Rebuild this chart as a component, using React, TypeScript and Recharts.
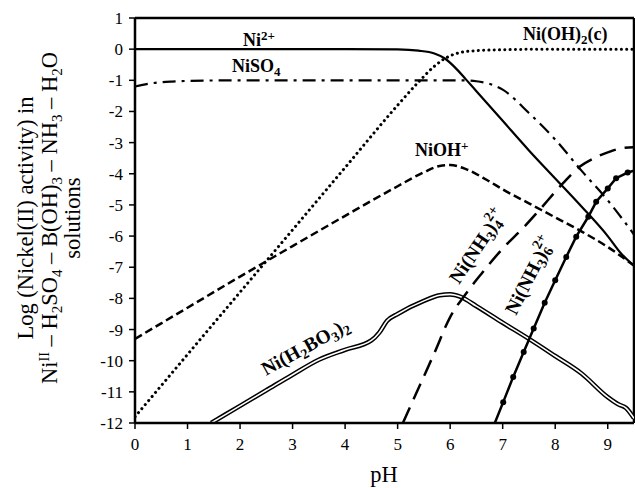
import React from 'react';
import { LineChart, Line, XAxis, YAxis, ReferenceLine } from 'recharts';

// ---- data (pH, log activity) ----
const ni2pH = [0, 1, 2, 3, 4, 5, 5.4, 5.7, 5.9, 6.1, 6.3, 6.5, 7, 7.5, 8, 8.5, 9, 9.25, 9.5];
const ni2Log = [0, 0, 0, 0, 0, -0.01, -0.05, -0.14, -0.3, -0.6, -0.97, -1.35, -2.3, -3.25, -4.15, -5.05, -6.0, -6.55, -6.95];

const niOH2pH = [0, 1, 2, 3, 4, 5, 5.4, 5.7, 5.9, 6.1, 6.4, 7, 8, 9.5];
const niOH2Log = [-11.8, -9.8, -7.8, -5.8, -3.8, -1.8, -1.05, -0.55, -0.3, -0.15, -0.06, -0.02, 0, 0];

const niSO4pH = [0, 0.3, 0.7, 1, 2, 3, 4, 5, 6.2, 6.5, 7, 7.5, 8, 8.5, 9, 9.5];
const niSO4Log = [-1.2, -1.1, -1.04, -1.02, -1, -1, -1, -1, -1, -1.03, -1.3, -2.05, -2.9, -3.9, -4.85, -5.95];

const niOHpH = [0, 1, 2, 3, 4, 5, 5.5, 5.8, 6, 6.3, 6.7, 7, 7.5, 8, 8.5, 9, 9.5];
const niOHLog = [-9.3, -8.3, -7.3, -6.32, -5.35, -4.4, -3.95, -3.75, -3.72, -3.85, -4.2, -4.5, -4.95, -5.4, -5.85, -6.35, -6.95];

const nh4pH = [5.1, 5.3, 5.7, 6.0, 6.3, 6.6, 7, 7.4, 7.7, 8.15, 8.47, 8.8, 9.04, 9.26, 9.5];
const nh4Log = [-12, -11.25, -9.75, -8.6, -7.85, -7.2, -6.4, -5.72, -5.16, -4.3, -3.77, -3.45, -3.29, -3.18, -3.15];

const nh6pH = [6.85, 7.01, 7.2, 7.4, 7.59, 7.8, 8.0, 8.21, 8.4, 8.63, 8.78, 9.0, 9.16, 9.38, 9.5];
const nh6Log = [-12, -11.33, -10.52, -9.72, -8.97, -8.14, -7.42, -6.67, -6.02, -5.38, -4.9, -4.47, -4.14, -3.96, -3.9];

const boPH = [1.45, 2, 2.5, 3, 3.5, 4, 4.5, 4.65, 4.8, 5, 5.5, 5.8, 6, 6.2, 6.5, 7, 7.5, 8, 8.5, 9, 9.2, 9.35, 9.5];
const boLog = [-12, -11.45, -10.95, -10.45, -9.97, -9.65, -9.35, -9.1, -8.72, -8.5, -8.08, -7.9, -7.87, -7.95, -8.25, -8.78, -9.3, -9.85, -10.41, -11.17, -11.4, -11.52, -11.85];

const xTicks = [0, 1, 2, 3, 4, 5, 6, 7, 8, 9];
const yTicks = [-12, -11, -10, -9, -8, -7, -6, -5, -4, -3, -2, -1, 0, 1];

const zip = (xs: number[], ys: number[]) => xs.map((x, i) => ({ x, y: ys[i] }));

const SERIF = 'Liberation Serif, Times New Roman, serif';
const tickStyle = { fill: '#000', fontFamily: SERIF, fontSize: 17 };
const lbl: React.CSSProperties = { fontFamily: SERIF, fontWeight: 700, fontSize: 18, fill: '#000' };
const lblR: React.CSSProperties = { fontFamily: SERIF, fontWeight: 700, fontSize: 19.5, fill: '#000' };
const axTitle: React.CSSProperties = { fontFamily: SERIF, fontSize: 22.5, fill: '#000' };

const nh6Dot = (props: any) => {
  const { cx, cy, index } = props;
  if (index === 0 || index === nh6pH.length - 1) return <g key={'d' + index} />;
  return <circle key={'d' + index} cx={cx} cy={cy} r={3} fill="#000" />;
};

export default function App() {
  return (
    <div style={{ position: 'absolute', left: 0, top: 0, width: 635, height: 488 }}>
      <LineChart width={635} height={488} margin={{ top: 18, right: 1, bottom: 0, left: 0 }}>
        <XAxis
          type="number"
          dataKey="x"
          domain={[0, 9.5]}
          ticks={xTicks}
          interval={0}
          allowDataOverflow
          height={65}
          tickSize={6}
          tickMargin={9}
          tick={tickStyle}
          axisLine={{ stroke: '#000', strokeWidth: 2.5 }}
          tickLine={{ stroke: '#000', strokeWidth: 1.5 }}
        />
        <YAxis
          type="number"
          dataKey="y"
          domain={[-12, 1]}
          ticks={yTicks}
          interval={0}
          allowDataOverflow
          width={135}
          tickSize={6}
          tickMargin={6}
          tick={tickStyle}
          axisLine={{ stroke: '#000', strokeWidth: 2.5 }}
          tickLine={{ stroke: '#000', strokeWidth: 1.5 }}
        />
        <ReferenceLine y={1} stroke="#000" strokeWidth={2.5} />
        <ReferenceLine x={9.5} stroke="#000" strokeWidth={2.5} />

        <Line data={zip(boPH, boLog)} dataKey="y" type="monotone" stroke="#000" strokeWidth={4.6} dot={false} isAnimationActive={false} />
        <Line data={zip(boPH, boLog)} dataKey="y" type="monotone" stroke="#fff" strokeWidth={1.6} dot={false} isAnimationActive={false} />

        <Line data={zip(niOHpH, niOHLog)} dataKey="y" type="monotone" stroke="#000" strokeWidth={2.5} strokeDasharray="8 4" dot={false} isAnimationActive={false} />
        <Line data={zip(niOH2pH, niOH2Log)} dataKey="y" type="monotone" stroke="#000" strokeWidth={3} strokeDasharray="0.1 5.2" strokeLinecap="round" dot={false} isAnimationActive={false} />
        <Line data={zip(niSO4pH, niSO4Log)} dataKey="y" type="monotone" stroke="#000" strokeWidth={2.2} strokeDasharray="13 6 3 6" dot={false} isAnimationActive={false} />
        <Line data={zip(nh4pH, nh4Log)} dataKey="y" type="monotone" stroke="#000" strokeWidth={2.5} strokeDasharray="17 9" dot={false} isAnimationActive={false} />
        <Line data={zip(nh6pH, nh6Log)} dataKey="y" type="linear" stroke="#000" strokeWidth={2.5} dot={nh6Dot} isAnimationActive={false} />
        <Line data={zip(ni2pH, ni2Log)} dataKey="y" type="monotone" stroke="#000" strokeWidth={2.2} dot={false} isAnimationActive={false} />
      </LineChart>

      <svg width={635} height={488} style={{ position: 'absolute', left: 0, top: 0, pointerEvents: 'none' }}>
        {/* species labels */}
        <text x={243} y={46} style={lbl}>Ni<tspan dy={-6} fontSize={13}>2+</tspan></text>
        <text x={232} y={72} style={lbl}>NiSO<tspan dy={4} fontSize={13}>4</tspan></text>
        <text x={523} y={40} style={lbl}>Ni(OH)<tspan dy={4} fontSize={13}>2</tspan><tspan dy={-4}>(c)</tspan></text>
        <text x={415} y={156} style={lbl}>NiOH<tspan dy={-6} fontSize={13}>+</tspan></text>
        <text x={266} y={376} style={lblR} transform="rotate(-29 266 376)">
          Ni(H<tspan dy={4} fontSize={14}>2</tspan><tspan dy={-4}>BO</tspan><tspan dy={4} fontSize={14}>3</tspan><tspan dy={-4}>)</tspan><tspan dy={4} fontSize={14}>2</tspan>
        </text>
        <text x={459} y={285} style={lblR} transform="rotate(-56 459 285)">
          Ni(NH<tspan dy={4} fontSize={14}>3</tspan><tspan dy={-4}>)</tspan><tspan dy={4} fontSize={14}>4</tspan><tspan dy={-13} dx={-6} fontSize={14}>2+</tspan>
        </text>
        <text x={516} y={316} style={lblR} transform="rotate(-63 516 316)">
          Ni(NH<tspan dy={4} fontSize={14}>3</tspan><tspan dy={-4}>)</tspan><tspan dy={4} fontSize={14}>6</tspan><tspan dy={-13} dx={-6} fontSize={14}>2+</tspan>
        </text>

        {/* axis titles */}
        <text x={384} y={482} textAnchor="middle" style={axTitle}>pH</text>
        <g transform="rotate(-90 0 0)">
          <text x={-218} y={33} textAnchor="middle" style={axTitle}>Log (Nickel(II) activity) in</text>
          <text x={-218} y={57} textAnchor="middle" style={axTitle}>
            Ni<tspan dy={-8} fontSize={14}>II</tspan><tspan dy={8}> – H</tspan><tspan dy={5} fontSize={15}>2</tspan><tspan dy={-5}>SO</tspan><tspan dy={5} fontSize={15}>4</tspan><tspan dy={-5}> – B(OH)</tspan><tspan dy={5} fontSize={15}>3</tspan><tspan dy={-5}> – NH</tspan><tspan dy={5} fontSize={15}>3</tspan><tspan dy={-5}> – H</tspan><tspan dy={5} fontSize={15}>2</tspan><tspan dy={-5}>O</tspan>
          </text>
          <text x={-218} y={80} textAnchor="middle" style={axTitle}>solutions</text>
        </g>
      </svg>
    </div>
  );
}
